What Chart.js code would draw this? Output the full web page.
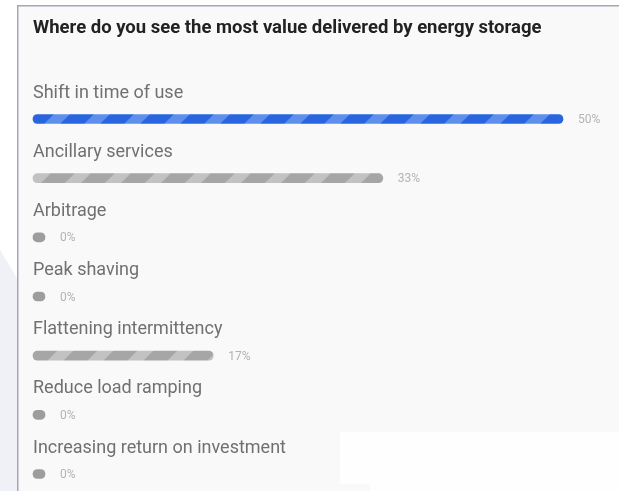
<!DOCTYPE html>
<html>
<head>
<meta charset="utf-8">
<script src="https://cdn.jsdelivr.net/npm/chart.js@4"></script>
<style>
  html, body { margin: 0; padding: 0; background: #ffffff; }
  #wrap { width: 619px; height: 491px; position: relative; }
</style>
</head>
<body>
<div id="wrap"><canvas id="c" width="619" height="491"></canvas></div>
<script>
const title = "Where do you see the most value delivered by energy storage";
const categories = [
  "Shift in time of use",
  "Ancillary services",
  "Arbitrage",
  "Peak shaving",
  "Flattening intermittency",
  "Reduce load ramping",
  "Increasing return on investment"
];
const percentValues = [50, 33, 0, 0, 17, 0, 0];
const highlightIndex = 0;

function stripePattern(base, stripe) {
  const p = document.createElement('canvas');
  p.width = 40; p.height = 40;
  const g = p.getContext('2d');
  g.fillStyle = base; g.fillRect(0, 0, 40, 40);
  g.fillStyle = stripe;
  for (let k = -2; k <= 2; k++) {
    const o = k * 40;
    g.beginPath();
    g.moveTo(o + 8, 40); g.lineTo(o + 24, 40);
    g.lineTo(o + 64, 0); g.lineTo(o + 48, 0);
    g.closePath(); g.fill();
  }
  return g.canvas;
}

const ctx = document.getElementById('c').getContext('2d');
const bluePat = ctx.createPattern(stripePattern('#2a65e0', '#5f8fec'), 'repeat');
const grayPat = ctx.createPattern(stripePattern('#a6a6a6', '#c2c2c2'), 'repeat');

const background = {
  id: 'background',
  beforeDraw(chart) {
    const c = chart.ctx;
    c.save();
    c.fillStyle = '#ffffff';
    c.fillRect(0, 0, 619, 491);
    c.fillStyle = '#f0f0f7';
    c.beginPath();
    c.moveTo(0, 250); c.lineTo(18, 280); c.lineTo(18, 491); c.lineTo(0, 491);
    c.closePath(); c.fill();
    c.fillStyle = '#f9f9f9';
    c.fillRect(18, 6, 601, 485);
    c.fillStyle = '#fefefe';
    c.fillRect(340, 432, 279, 52);
    c.fillRect(370, 484, 249, 7);
    c.fillStyle = '#a4a8b6';
    c.fillRect(17, 5, 602, 1.5);
    c.fillRect(17, 5, 1.5, 486);
    c.fillStyle = '#222222';
    c.font = 'bold 18.5px Roboto';
    c.textBaseline = 'middle';
    c.textAlign = 'left';
    c.fillText(title, 33, 28);
    c.restore();
  },
  afterDatasetsDraw(chart) {
    const c = chart.ctx;
    const meta = chart.getDatasetMeta(0);
    c.save();
    c.textBaseline = 'middle';
    c.textAlign = 'left';
    meta.data.forEach((bar, i) => {
      c.fillStyle = '#707070';
      c.font = '18px Roboto';
      c.fillText(categories[i], 33, bar.y - 26);
      c.fillStyle = '#b3b3b3';
      c.font = '12px Roboto';
      c.fillText(percentValues[i] + '%', bar.x + 15, bar.y + 1);
    });
    c.restore();
  }
};

new Chart(ctx, {
  type: 'bar',
  data: {
    labels: categories,
    datasets: [{
      data: percentValues,
      backgroundColor: percentValues.map((v, i) => i === highlightIndex ? bluePat : (v === 0 ? '#9d9d9d' : grayPat)),
      borderWidth: 0,
      borderRadius: 5,
      borderSkipped: false,
      barThickness: 9,
      minBarLength: 12,
      clip: false
    }]
  },
  options: {
    indexAxis: 'y',
    responsive: false,
    animation: false,
    layout: { padding: { left: 33, right: 56, top: 119, bottom: 17 } },
    scales: {
      x: { display: false, min: 0, max: 50 },
      y: { display: false, offset: false }
    },
    plugins: {
      legend: { display: false },
      tooltip: { enabled: false }
    }
  },
  plugins: [background]
});
</script>
</body>
</html>
